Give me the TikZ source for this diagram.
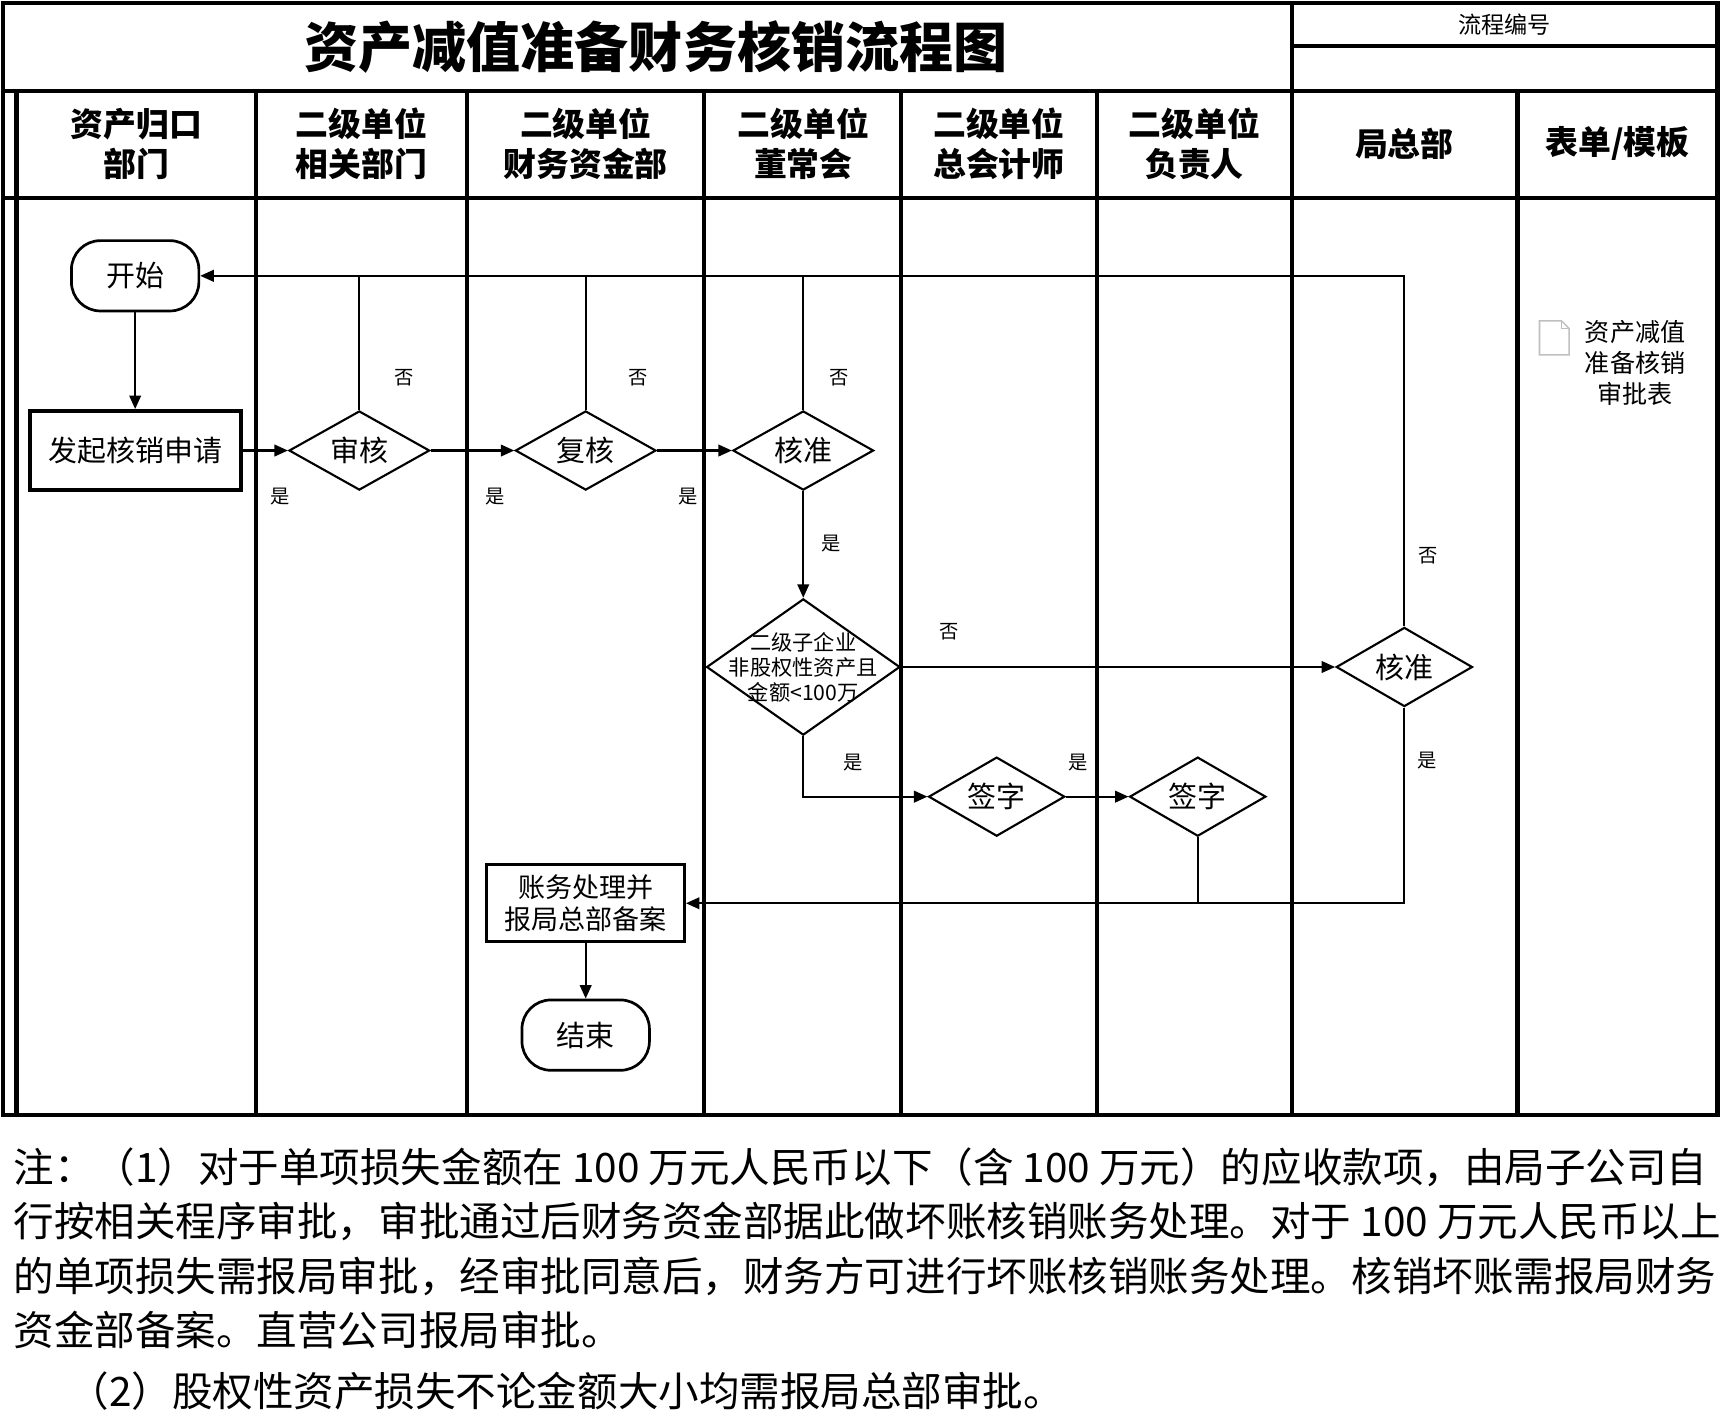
\documentclass[tikz,border=0pt]{standalone}
\usepackage{fontspec}
\setmainfont{Noto Sans CJK SC}
\usetikzlibrary{shapes.geometric,arrows.meta}
\begin{document}
\begin{tikzpicture}[x=0.02cm,y=-0.02cm,
  frame/.style={line width=2.2pt},
  box/.style={draw,line width=1.4pt,minimum width=#1*0.02cm,align=center,font=\fontsize{15}{18}\selectfont},
  dia/.style={draw,line width=1.1pt,diamond,aspect=1.78,inner sep=0pt,minimum width=128*0.02cm,minimum height=72*0.02cm,font=\fontsize{15}{18}\selectfont},
  term/.style={draw,line width=1.4pt,rounded corners=15pt,minimum width=116*0.02cm,minimum height=64*0.02cm,font=\fontsize{15}{18}\selectfont},
  hd/.style={align=center,font=\bfseries\fontsize{17}{21}\selectfont},
  lb/.style={font=\fontsize{10}{12}\selectfont},
  ln/.style={line width=1.1pt},
  ar/.style={line width=1.1pt,-{Triangle[length=7pt,width=6pt]}},
  note/.style={anchor=west,font=\fontsize{21}{25}\selectfont,inner sep=0pt}]
\useasboundingbox (0,0) rectangle (1568,1290);
\fill[white] (0,0) rectangle (1568,1290);
% frame
\draw[frame] (3,3) rectangle (1563,1015);
\draw[frame] (3,83) -- (1563,83);
\draw[frame] (3,180) -- (1563,180);
\draw[frame] (1176,3) -- (1176,83);
\draw[frame] (1176,42) -- (1563,42);
\draw[frame] (15,83) -- (15,1015);
\foreach \x in {233,425,641,820,998,1176,1381} \draw[frame] (\x,83) -- (\x,1015);
\node[font=\bfseries\fontsize{28}{32}\selectfont] (title) at (597,43) {资产减值准备财务核销流程图};
\node[font=\fontsize{12}{14}\selectfont] (pn) at (1369,22) {流程编号};
\node[hd] at (124,131) {资产归口\\部门};
\node[hd] at (329,131) {二级单位\\相关部门};
\node[hd] at (533,131) {二级单位\\财务资金部};
\node[hd] at (731,131) {二级单位\\董常会};
\node[hd] at (909,131) {二级单位\\总会计师};
\node[hd] at (1087,131) {二级单位\\负责人};
\node[hd] at (1278,131) {局总部};
\node[hd] at (1472,131) {表单/模板};
% nodes
\node[term] (start) at (123,251) {开始};
\node[box=192,minimum height=72*0.02cm,line width=2pt] (apply) at (123,410) {发起核销申请};
\node[dia] (d1) at (327,410) {审核};
\node[dia] (d2) at (533,410) {复核};
\node[dia] (d3) at (731,410) {核准};
\node[dia,minimum width=176*0.02cm,minimum height=124*0.02cm,
  label={[align=center,font=\fontsize{11}{13}\selectfont]center:二级子企业\\非股权性资产且\\金额<100万}] (d4) at (731,607) {};
\node[dia,minimum width=124*0.02cm] (d5) at (1278,607) {核准};
\node[dia,minimum width=124*0.02cm] (s1) at (907,725) {签字};
\node[dia,minimum width=124*0.02cm] (s2) at (1090,725) {签字};
\node[box=180,minimum height=70*0.02cm,font=\fontsize{14}{17}\selectfont] (acc) at (533,822) {账务处理并\\报局总部备案};
\node[term] (end) at (533,942) {结束};
% doc icon
\draw[gray!50,line width=0.8pt] (1401,292) -- (1421,292) -- (1428,299) -- (1428,323) -- (1401,323) -- cycle;
\draw[gray!50,line width=0.8pt] (1421,292) -- (1421,299) -- (1428,299);
\node[align=center,font=\fontsize{13}{16}\selectfont] (form) at (1488,330) {资产减值\\准备核销\\审批表};
% connectors
\draw[ar] (start) -- (apply);
\draw[ar] (apply) -- (d1);
\draw[ar] (d1) -- (d2);
\draw[ar] (d2) -- (d3);
\draw[ar] (d3) -- (d4);
\draw[ar] (d5.north) |- (start.east);
\draw[ln] (d1.north) -- (d1.north |- start.east);
\draw[ln] (d2.north) -- (d2.north |- start.east);
\draw[ln] (d3.north) -- (d3.north |- start.east);
\draw[ar] (d4) -- (d5);
\draw[ar] (d4.south) |- (s1.west);
\draw[ar] (s1) -- (s2);
\draw[ar] (d5.south) |- (acc.east);
\draw[ln] (s2.south) -- (s2.south |- acc.east);
\draw[ar] (acc) -- (end);
% labels
\node[lb] at (368,344) {否};
\node[lb] at (581,344) {否};
\node[lb] at (764,344) {否};
\node[lb] at (1300,506) {否};
\node[lb] at (864,575) {否};
\node[lb] at (255,452) {是};
\node[lb] at (451,452) {是};
\node[lb] at (626,452) {是};
\node[lb] at (756,495) {是};
\node[lb] at (776,694) {是};
\node[lb] at (981,694) {是};
\node[lb] at (1299,692) {是};
% notes
\node[note] at (12,1062) {注：（1）对于单项损失金额在 100 万元人民币以下（含 100 万元）的应收款项，由局子公司自};
\node[note] at (12,1112) {行按相关程序审批，审批通过后财务资金部据此做坏账核销账务处理。对于 100 万元人民币以上};
\node[note] at (12,1162) {的单项损失需报局审批，经审批同意后，财务方可进行坏账核销账务处理。核销坏账需报局财务};
\node[note] at (12,1210) {资金部备案。直营公司报局审批。};
\node[note] at (62,1266) {（2）股权性资产损失不论金额大小均需报局总部审批。};
\end{tikzpicture}
\end{document}
